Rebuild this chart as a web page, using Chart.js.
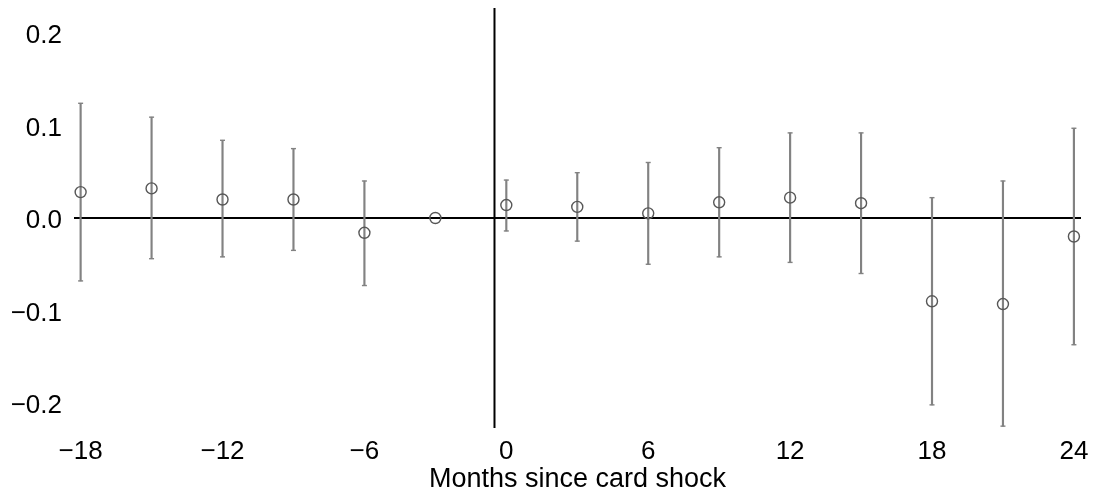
<!DOCTYPE html>
<html>
<head>
<meta charset="utf-8">
<script src="https://cdn.jsdelivr.net/npm/chart.js@4"></script>
<style>
  html, body { margin: 0; padding: 0; background: #ffffff; }
  #wrap { width: 1094px; height: 493px; }
</style>
</head>
<body>
<div id="wrap"><canvas id="c" width="1094" height="493"></canvas></div>
<script>
// Event-study estimates by month relative to the card shock
const months   = [-18, -15, -12, -9, -6, -3, 0, 3, 6, 9, 12, 15, 18, 21, 24];
const estimate = [0.028, 0.032, 0.020, 0.020, -0.016, 0.000, 0.014, 0.012, 0.005, 0.017, 0.022, 0.016, -0.090, -0.093, -0.020];
const ciLow    = [-0.068, -0.044, -0.042, -0.035, -0.073, null, -0.014, -0.025, -0.050, -0.042, -0.048, -0.060, -0.202, -0.225, -0.137];
const ciHigh   = [0.124, 0.109, 0.084, 0.075, 0.040, null, 0.041, 0.049, 0.060, 0.076, 0.092, 0.092, 0.022, 0.040, 0.097];

const xTicks = [-18, -12, -6, 0, 6, 12, 18, 24];
const yTicks = [-0.2, -0.1, 0.0, 0.1, 0.2];
const eventLine = -0.5;   // month boundary where the shock occurs
const zeroLine = 0;

const xLabel = 'Months since card shock';

const fmtY = v => (v < 0 ? '\u2212' : '') + Math.abs(v).toFixed(1);
const fmtX = v => (v < 0 ? '\u2212' : '') + Math.abs(v);

const ciIdx = months.map((m, i) => i).filter(i => ciLow[i] !== null);

const whiskers = ciIdx.map(i => ({ x: months[i], y: [ciLow[i], ciHigh[i]] }));
const caps = ciIdx.flatMap(i => [{ x: months[i], y: ciLow[i] }, { x: months[i], y: ciHigh[i] }]);
const points = months.map((m, i) => ({ x: m, y: estimate[i] }));

// reference lines (y = 0 and the event month) drawn under the data
const refLines = {
  id: 'refLines',
  beforeDatasetsDraw(chart) {
    const { ctx, chartArea: a, scales: { x, y } } = chart;
    ctx.save();
    ctx.strokeStyle = '#000000';
    ctx.lineWidth = 2;
    const y0 = y.getPixelForValue(zeroLine);
    ctx.beginPath();
    ctx.moveTo(a.left, y0);
    ctx.lineTo(a.right, y0);
    ctx.stroke();
    const xe = x.getPixelForValue(eventLine);
    ctx.beginPath();
    ctx.moveTo(xe, a.top);
    ctx.lineTo(xe, a.bottom);
    ctx.stroke();
    ctx.restore();
  }
};

const GREY = '#828282';
const MARK = '#575757';
const FONT = '"Liberation Sans", Arial, sans-serif';

new Chart(document.getElementById('c'), {
  type: 'scatter',
  data: {
    datasets: [
      {
        type: 'scatter',
        data: points,
        pointStyle: 'circle',
        pointRadius: 5.5,
        pointHoverRadius: 5.5,
        borderColor: MARK,
        backgroundColor: 'rgba(0,0,0,0)',
        borderWidth: 1.4,
        order: 0
      },
      {
        type: 'scatter',
        data: caps,
        pointStyle: 'line',
        pointRadius: 2.5,
        pointHoverRadius: 2.5,
        borderColor: GREY,
        borderWidth: 1.4,
        order: 1
      },
      {
        type: 'bar',
        data: whiskers,
        barThickness: 1.5,
        backgroundColor: GREY,
        borderWidth: 0,
        order: 2
      }
    ]
  },
  options: {
    responsive: false,
    animation: false,
    layout: { padding: { top: 8, right: 13, left: 0, bottom: 0 } },
    plugins: { legend: { display: false }, tooltip: { enabled: false } },
    scales: {
      x: {
        type: 'linear',
        min: -18.28,
        max: 24.3,
        offset: false,
        border: { display: false },
        grid: { display: false, drawTicks: false },
        afterBuildTicks: s => { s.ticks = xTicks.map(v => ({ value: v })); },
        afterFit: s => { s.height = 65; s.paddingLeft = 0; s.paddingRight = 0; },
        ticks: {
          autoSkip: false,
          maxRotation: 0,
          padding: 8,
          color: '#000000',
          font: { family: FONT, size: 26 },
          callback: v => fmtX(v)
        },
        title: {
          display: true,
          text: xLabel,
          color: '#000000',
          padding: { top: 0, bottom: -3 },
          font: { family: FONT, size: 27 }
        }
      },
      y: {
        type: 'linear',
        min: -0.227,
        max: 0.227,
        border: { display: false },
        grid: { display: false, drawTicks: false },
        afterBuildTicks: s => { s.ticks = yTicks.map(v => ({ value: v })); },
        afterFit: s => { s.width = 74; s.paddingTop = 0; s.paddingBottom = 0; },
        ticks: {
          padding: 12,
          labelOffset: 3,
          color: '#000000',
          font: { family: FONT, size: 26 },
          callback: v => fmtY(v)
        }
      }
    }
  },
  plugins: [refLines]
});
</script>
</body>
</html>
